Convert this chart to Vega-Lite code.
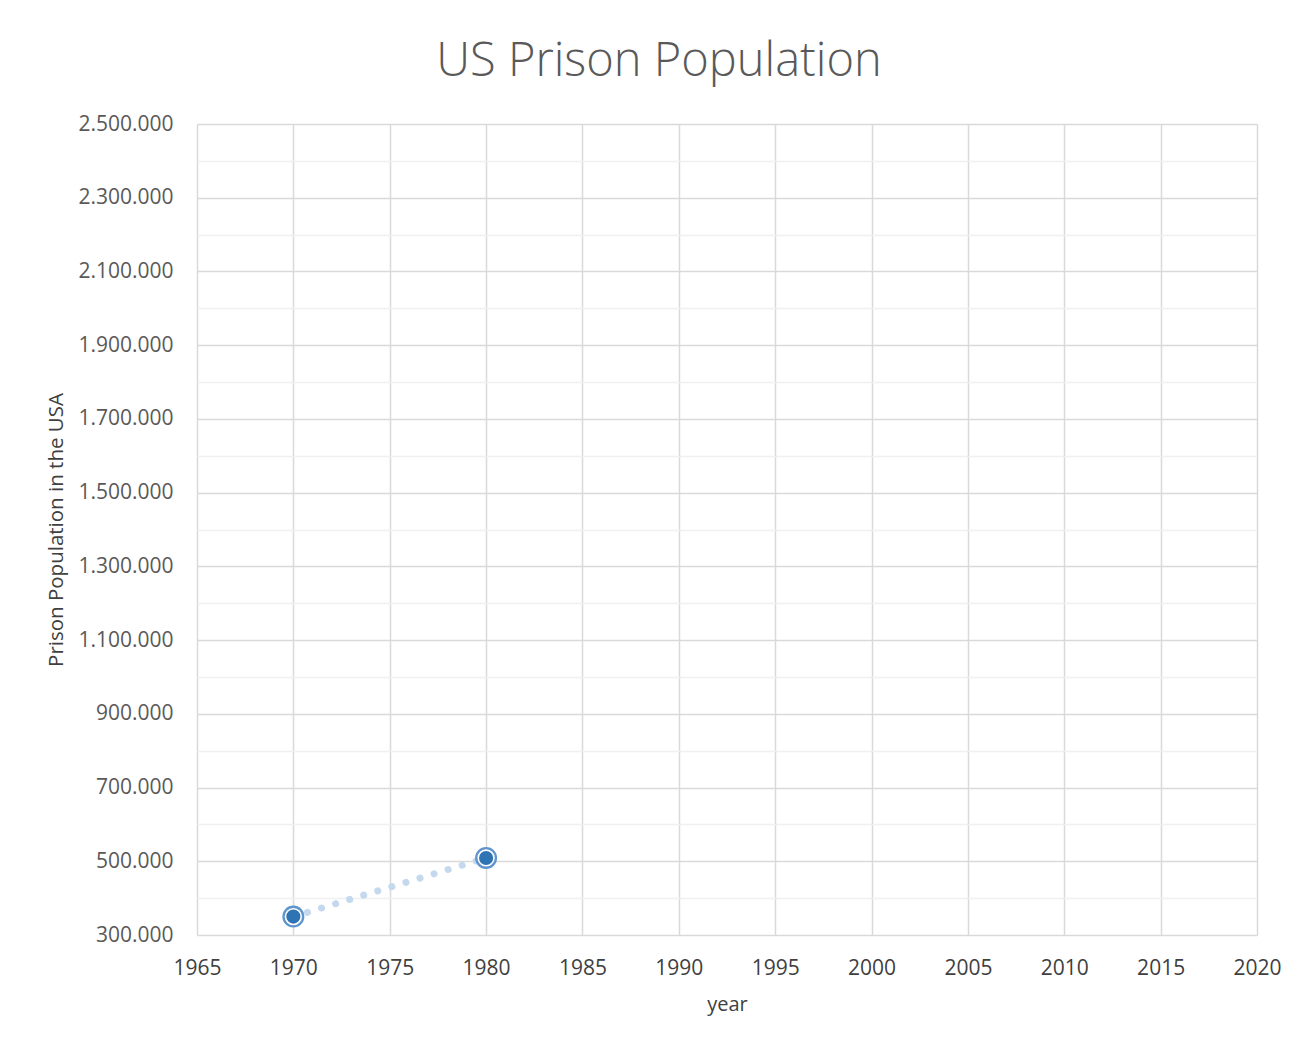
{
  "$schema": "https://vega.github.io/schema/vega-lite/v6.json",
  "width": 1060,
  "height": 811,
  "autosize": {"type": "none"},
  "padding": {"left": 197, "top": 124, "right": 55, "bottom": 108},
  "background": "white",
  "config": {
    "locale": {"number": {"decimal": ",", "thousands": ".", "grouping": [3], "currency": ["", "€"]}},
    "view": {"stroke": null},
    "font": "Open Sans"
  },
  "title": {
    "text": "US Prison Population",
    "font": "Open Sans",
    "fontSize": 47,
    "fontWeight": 300,
    "color": "#595959",
    "anchor": "middle",
    "frame": "group",
    "dx": -68,
    "baseline": "alphabetic",
    "offset": -10
  },
  "data": {
    "values": [
      {"year": 1970, "population": 350000},
      {"year": 1980, "population": 509000}
    ]
  },
  "encoding": {
    "x": {
      "field": "year",
      "type": "quantitative",
      "scale": {"domain": [1965, 2020], "nice": false, "zero": false},
      "axis": {
        "title": "year",
        "values": [1965, 1970, 1975, 1980, 1985, 1990, 1995, 2000, 2005, 2010, 2015, 2020],
        "format": "d",
        "domain": false,
        "ticks": false,
        "grid": true,
        "gridColor": "#d9d9d9",
        "gridWidth": 1.5,
        "labelFont": "Open Sans",
        "labelFontSize": 21,
        "labelColor": "#404040",
        "labelPadding": 22,
        "labelFlush": false,
        "titleFont": "Open Sans",
        "titleFontSize": 20,
        "titleFontWeight": "normal",
        "titleColor": "#404040",
        "titlePadding": 16
      }
    },
    "y": {
      "field": "population",
      "type": "quantitative",
      "scale": {"domain": [300000, 2500000], "nice": false, "zero": false},
      "axis": {
        "title": "Prison Population in the USA",
        "values": [300000, 400000, 500000, 600000, 700000, 800000, 900000, 1000000, 1100000, 1200000, 1300000, 1400000, 1500000, 1600000, 1700000, 1800000, 1900000, 2000000, 2100000, 2200000, 2300000, 2400000, 2500000],
        "format": ",.0f",
        "labelExpr": "datum.value % 200000 === 0 ? '' : datum.label",
        "domain": false,
        "ticks": false,
        "grid": true,
        "gridColor": {"condition": {"test": "datum.value % 200000 === 0", "value": "#f0f0f0"}, "value": "#d9d9d9"},
        "gridWidth": 1.5,
        "labelFont": "Open Sans",
        "labelFontSize": 21,
        "labelColor": "#595959",
        "labelPadding": 24,
        "labelFlush": false,
        "labelOverlap": false,
        "titleFont": "Open Sans",
        "titleFontSize": 20.5,
        "titleFontWeight": "normal",
        "titleColor": "#404040",
        "titlePadding": 11
      }
    }
  },
  "layer": [
    {
      "mark": {"type": "line", "color": "#c5d9ee", "strokeWidth": 7, "strokeCap": "round", "strokeDash": [0.1, 14.6]}
    },
    {
      "mark": {"type": "point", "shape": "circle", "filled": true, "size": 484, "color": "#5f95cc", "opacity": 1}
    },
    {
      "mark": {"type": "point", "shape": "circle", "filled": true, "size": 300, "color": "#ffffff", "opacity": 1}
    },
    {
      "mark": {"type": "point", "shape": "circle", "filled": true, "size": 200, "color": "#2e74b5", "opacity": 1}
    }
  ]
}
